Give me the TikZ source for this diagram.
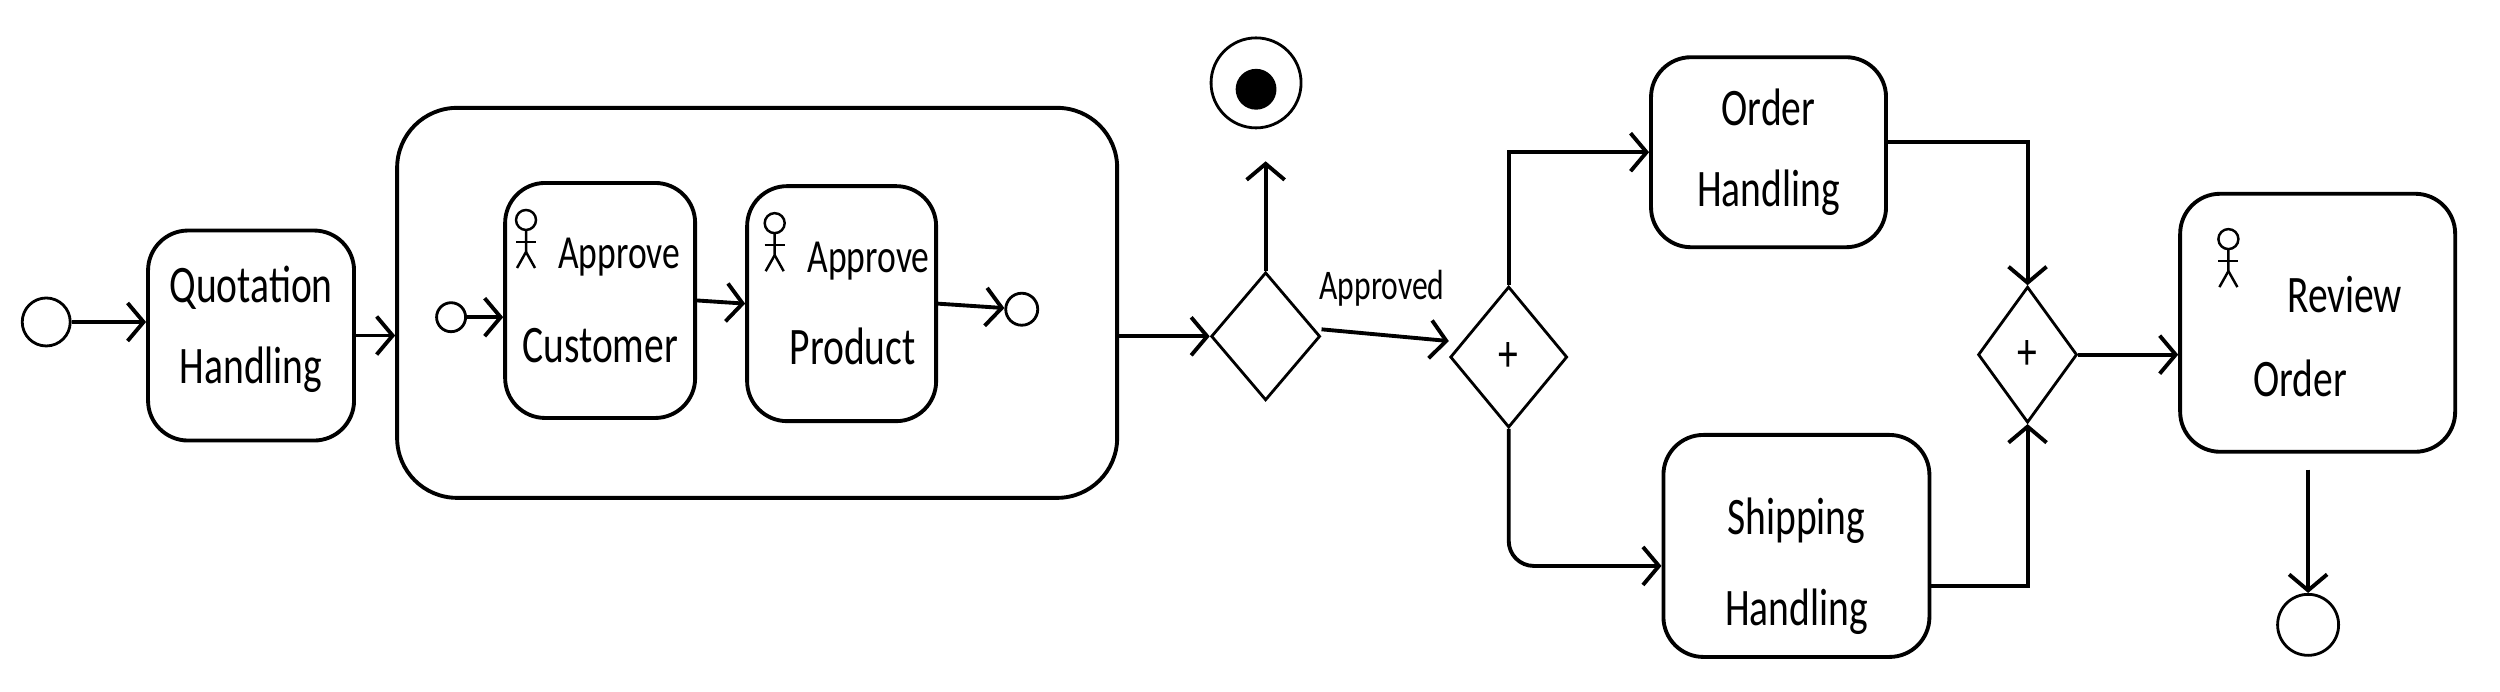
\documentclass[tikz,border=0pt]{standalone}
\usepackage{fontspec}
\setmainfont[FakeStretch=0.75]{Carlito}
\usetikzlibrary{arrows.meta,shapes.geometric}
\tikzset{
    >={Straight Barb[length=1.6mm,width=3.8mm]},
    ink/.style={line width=1.1pt,rounded corners=4mm},
    task/.style={draw,ink,align=center,inner sep=0pt,font=\fontsize{15}{18}\selectfont},
    gate/.style={draw,diamond,line width=.8pt,inner sep=0pt,font=\fontsize{15}{18}\selectfont},
    event/.style={draw,circle,line width=.8pt,inner sep=0pt},
    flow/.style={->,line width=1.1pt},
    actor/.pic={
        \draw[line width=.7pt] (0,0) circle (1mm);
        \draw[line width=.7pt] (0,-1mm) -- (0,-3.2mm) -- (-.9mm,-4.8mm);
        \draw[line width=.7pt] (0,-3.2mm) -- (.9mm,-4.8mm);
        \draw[line width=.7pt] (-1mm,-2.2mm) -- (1mm,-2.2mm);
    }
}
\begin{document}
\begin{tikzpicture}[x=.1594mm,y=-.1594mm]
    \useasboundingbox (0,0) rectangle (1568.4,434.1);
    % Quotation part
    \node[event,minimum size=4.8mm] (start) at (29,202) {};
    \node[task,minimum width=20.6mm,minimum height=21mm] (quot) at (157.5,210.5) {Quotation\\[5pt]Handling\rule[-6pt]{0pt}{6pt}};
    % Sub process
    \node[draw,ink,rounded corners=6mm,minimum width=72mm,minimum height=39mm] (outer) at (475,190) {};
    \node[event,minimum size=2.9mm] (substart) at (283,199) {};
    \node[task,minimum width=19mm,minimum height=23.5mm] (cust) at (376.5,188.5) {\hspace*{3.8mm}{\fontsize{13.5}{16}\selectfont Approve}\\[9pt]Customer};
    \node[task,minimum width=18.9mm,minimum height=23.5mm] (prod) at (528,190.5) {\hspace*{5.4mm}{\fontsize{13.5}{16}\selectfont Approve}\\[8pt]\hspace*{2.2mm}Product};
    \node[event,minimum size=3.2mm] (subend) at (641,194) {};
    \pic at (330,138) {actor};
    \pic at (486,140) {actor};
    % Gateways and stop
    \node[gate,minimum width=10.9mm,minimum height=12.8mm] (gwa) at (794,211) {};
    \node[event,minimum size=9mm] (stop) at (788,52) {};
    \node[event,fill=black,minimum size=3.8mm] (stopdot) at (788,56) {};
    \node[font=\fontsize{12}{14}\selectfont] (appr) at (867,181) {Approved};
    \node[gate,minimum width=11.7mm,minimum height=14.1mm] (gwb) at (946.5,224) {+};
    % Parallel tasks
    \node[task,minimum width=23.5mm,minimum height=19mm] (order) at (1109.5,95.5) {Order\\[5pt]Handling};
    \node[task,minimum width=26.6mm,minimum height=22.2mm] (ship) at (1127,342.5) {\rule{0pt}{22pt}Shipping\\[8pt]Handling};
    \node[task,minimum width=27.5mm,minimum height=25.8mm] (review) at (1454,202.5) {\rule{0pt}{18pt}\hspace*{5.4mm}Review\\[6pt]Order\hspace*{3.5mm}};
    \node[gate,minimum width=9.9mm,minimum height=13.6mm] (gwc) at (1272,222.5) {+};
    % Review
    \pic at (1398,150) {actor};
    \node[event,minimum size=6.1mm] (last) at (1448,392) {};
    % Connectors
    \draw[flow] (start) -- (start -| quot.west);
    \draw[flow] (quot) -- (quot -| outer.west);
    \draw[flow] (substart) -- (substart -| cust.west);
    \draw[flow] (cust.east) -- (prod.west);
    \draw[flow] (prod.east) -- (subend);
    \draw[flow] (gwa.west -| outer.east) -- (gwa.west);
    \draw[flow,shorten >=3.2mm] (gwa.north) -- (gwa.north |- stop.south);
    \draw[flow] ([yshift=.7mm]gwa.east) -- ([yshift=1.6mm]gwb.west);
    \draw[flow] (gwb.north) |- (order.west);
    \draw[flow,rounded corners=2.5mm] (gwb.south) |- ([yshift=-2mm]ship.west);
    \draw[flow] ([yshift=1mm]order.east) -| (gwc.north);
    \draw[flow] ([yshift=-4mm]ship.east) -| (gwc.south);
    \draw[flow] (gwc.east) -- (gwc.east -| review.west);
    \draw[flow,shorten <=1.6mm] (last.north |- review.south) -- (last.north);
\end{tikzpicture}
\end{document}
